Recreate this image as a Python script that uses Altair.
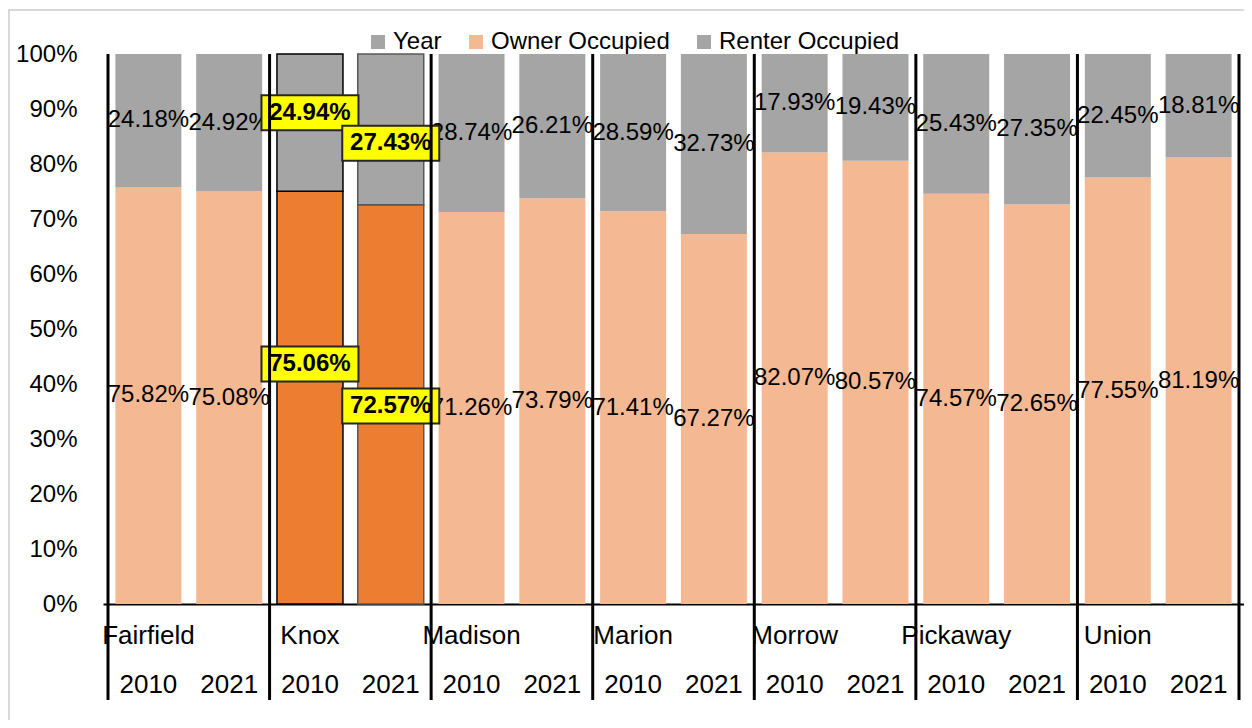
import altair as alt
import pandas as pd

counties = ["Fairfield", "Knox", "Madison", "Marion", "Morrow", "Pickaway", "Union"]
years = ["2010", "2021"]
owner = [75.82, 75.08, 75.06, 72.57, 71.26, 73.79, 71.41, 67.27, 82.07, 80.57, 74.57, 72.65, 77.55, 81.19]
renter = [24.18, 24.92, 24.94, 27.43, 28.74, 26.21, 28.59, 32.73, 17.93, 19.43, 25.43, 27.35, 22.45, 18.81]
legend_items = ["Year", "Owner Occupied", "Renter Occupied"]
highlight = "Knox"

# style: manual label shifts (percentage points) for the highlighted labels
knox_shift = {("2010", "Renter Occupied"): 1.8, ("2021", "Renter Occupied"): -2.5,
              ("2010", "Owner Occupied"): 6.1, ("2021", "Owner Occupied"): -0.3}

W, H = 1141, 550
FONT = "Liberation Sans"
FS = 24
FS_CAT = 26
GRAY = "#A5A5A5"
PEACH = "#F4B993"
ORANGE = "#ED7D31"
BOX_HALF = 3.18  # half box height in percentage points (style)

rows = []
slot = 0
for ci, c in enumerate(counties):
    for yi, yr in enumerate(years):
        k = ci * 2 + yi
        o, r = owner[k], renter[k]
        for series, v, s in [("Owner Occupied", o, 0.0), ("Renter Occupied", r, o)]:
            mid = s + v / 2
            shift = knox_shift.get((yr, series), 0.0) if c == highlight else 0.0
            rows.append(dict(county=c, year=yr, pos=slot + 0.5, series=series, value=v,
                             start=s, end=s + v, lab=mid + shift,
                             lo=mid + shift - BOX_HALF, hi=mid + shift + BOX_HALF,
                             label=f"{v:.2f}%", hl=(c == highlight)))
        slot += 1
df = pd.DataFrame(rows)

xs = alt.Scale(domain=[0, len(counties) * 2], nice=False, zero=False)
ys = alt.Scale(domain=[0, 100], nice=False)

base = alt.Chart(df)

bars = base.mark_bar(width=66).encode(
    x=alt.X("pos:Q", scale=xs, axis=alt.Axis(labels=False, ticks=False, grid=False, title=None,
                                             domain=True, domainColor="black", domainWidth=2)),
    y=alt.Y("start:Q", scale=ys, axis=alt.Axis(values=list(range(0, 101, 10)), labelExpr="datum.value + '%'",
                                               labelFontSize=FS, labelFont=FONT, labelColor="black",
                                               ticks=False, domain=False, grid=False, title=None,
                                               labelPadding=26)),
    y2="end:Q",
    color=alt.Color("series:N", scale=alt.Scale(domain=legend_items, range=[GRAY, PEACH, GRAY]),
                    legend=alt.Legend(orient="none", legendX=263, legendY=-24, direction="horizontal",
                                      title=None, symbolType="square", symbolSize=196,
                                      symbolStrokeWidth=0, labelFontSize=FS, labelFont=FONT,
                                      labelColor="black", labelOffset=3, columnPadding=22,
                                      labelLimit=400)),
)

knox_bars = base.transform_filter(alt.datum.hl).mark_bar(width=66, strokeWidth=1.5).encode(
    x=alt.X("pos:Q", scale=xs),
    y=alt.Y("start:Q", scale=ys),
    y2="end:Q",
    fill=alt.condition(alt.datum.series == "Owner Occupied", alt.value(ORANGE), alt.value(GRAY)),
    stroke=alt.condition(alt.datum.year == "2010", alt.value("black"), alt.value("#595959")),
)

labels = base.transform_filter(~alt.datum.hl).mark_text(fontSize=FS, font=FONT, color="black",
                                                          baseline="middle").encode(
    x=alt.X("pos:Q", scale=xs), y=alt.Y("lab:Q", scale=ys), text="label:N")

boxes = base.transform_filter(alt.datum.hl).mark_bar(width=97, fill="#FFFF00", stroke="#262626",
                                                      strokeWidth=2).encode(
    x=alt.X("pos:Q", scale=xs), y=alt.Y("lo:Q", scale=ys), y2="hi:Q")

knox_labels = base.transform_filter(alt.datum.hl).mark_text(fontSize=FS, font=FONT, fontWeight="bold",
                                                             color="black", baseline="middle").encode(
    x=alt.X("pos:Q", scale=xs), y=alt.Y("lab:Q", scale=ys), text="label:N")

sep_df = pd.DataFrame({"sep": [i * 2 for i in range(len(counties) + 1)]})
seps = alt.Chart(sep_df).mark_rule(color="black", strokeWidth=3).encode(
    x=alt.X("sep:Q", scale=xs), y=alt.value(0), y2=alt.value(H + 96))

cty_df = pd.DataFrame({"county": counties, "pos": [i * 2 + 0.5 for i in range(len(counties))]})
cty = alt.Chart(cty_df).mark_text(fontSize=FS_CAT, font=FONT, color="black", baseline="middle").encode(
    x=alt.X("pos:Q", scale=xs), y=alt.value(H + 32), text="county:N")

yr_df = df[df.series == "Owner Occupied"][["pos", "year"]]
yrs = alt.Chart(yr_df).mark_text(fontSize=FS_CAT, font=FONT, color="black", baseline="middle").encode(
    x=alt.X("pos:Q", scale=xs), y=alt.value(H + 81), text="year:N")

border = alt.Chart(pd.DataFrame({"a": [0]})).mark_rect(fill=None, stroke="#D9D9D9", strokeWidth=2).encode(
    x=alt.value(-94), x2=alt.value(W + 40), y=alt.value(-44), y2=alt.value(H + 140))

chart = alt.layer(border, bars, knox_bars, labels, boxes, knox_labels, seps, cty, yrs).properties(
    width=W, height=H, autosize=alt.AutoSizeParams(type="none"),
    padding={"left": 95, "top": 46, "right": 0, "bottom": 116},
    background="white",
).configure_view(strokeWidth=0)

chart.save("out.html", embed_options={"renderer": "svg", "actions": False})
